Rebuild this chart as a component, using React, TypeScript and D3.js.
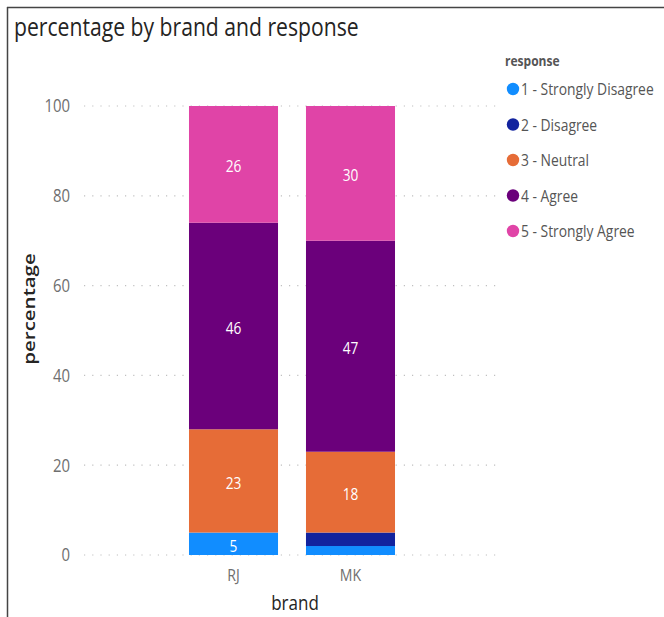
import React from "react";
import * as d3 from "d3";

const brands = ["RJ", "MK"];
const responses = ["1 - Strongly Disagree", "2 - Disagree", "3 - Neutral", "4 - Agree", "5 - Strongly Agree"];
const colors = ["#118DFF", "#12239E", "#E66C37", "#6B007B", "#E044A7"];
const rjValues = [5, 0, 23, 46, 26];
const mkValues = [2, 3, 18, 47, 30];
const yTicks = [0, 20, 40, 60, 80, 100];

const FONT = "'Open Sans', 'Noto Sans', sans-serif";
const SX = 0.83;

function T(props: any) {
  const { x, y, rotate, sx = SX, children, ...rest } = props;
  const tr = `translate(${x},${y}) scale(${sx},1)` + (rotate ? ` rotate(${rotate})` : "");
  return (
    <text transform={tr} fontFamily={FONT} {...rest}>
      {children}
    </text>
  );
}

export default function App() {
  const W = 664, H = 617;
  const values = [rjValues, mkValues];
  const y = d3.scaleLinear().domain([0, 100]).range([555, 106]);
  const x = d3.scaleBand().domain(brands).range([130.5, 453.5]).paddingInner(0.239).paddingOuter(0.5);
  const stackData = brands.map((b, i) => {
    const o: any = { brand: b };
    responses.forEach((r, j) => (o[r] = values[i][j]));
    return o;
  });
  const series = d3.stack().keys(responses)(stackData);
  return (
    <svg width={W} height={H} style={{ position: "absolute", left: 0, top: 0 }}>
      <rect x={0} y={0} width={W} height={H} fill="#fff" />
      <line x1={7.5} y1={7} x2={7.5} y2={H} stroke="#444" strokeWidth={1.5} />
      <line x1={7} y1={7.5} x2={W} y2={7.5} stroke="#444" strokeWidth={1.5} />
      <T x={14} y={36} fontSize={25.8} sx={0.82} fill="#252423">
        percentage by brand and response
      </T>
      {yTicks.map((t) => (
        <g key={t}>
          <line x1={84} x2={500} y1={y(t)} y2={y(t)} stroke="#c0c0c0" strokeWidth={1.2} strokeDasharray="1.2,7" />
          <T x={70} y={y(t)} dy="0.36em" textAnchor="end" fontSize={18} fill="#6f6f6f">
            {t}
          </T>
        </g>
      ))}
      {series.map((s, j) => (
        <g key={j}>
          {s.map((d, i) => {
            const v = d[1] - d[0];
            if (v <= 0) return null;
            return (
              <rect key={i} x={x(brands[i])!} width={x.bandwidth()} y={y(d[1])} height={y(d[0]) - y(d[1])} fill={colors[j]} />
            );
          })}
        </g>
      ))}
      {series.map((s, j) => (
        <g key={"l" + j}>
          {s.map((d, i) => {
            const v = d[1] - d[0];
            if (v < 4) return null;
            return (
              <T key={i} x={x(brands[i])! + x.bandwidth() / 2} y={(y(d[0]) + y(d[1])) / 2 + 2} dy="0.36em" textAnchor="middle" fontSize={16.5} fill="#fff">
                {v}
              </T>
            );
          })}
        </g>
      ))}
      {brands.map((b) => (
        <T key={b} x={x(b)! + x.bandwidth() / 2} y={581} textAnchor="middle" fontSize={17} fill="#6f6f6f">
          {b}
        </T>
      ))}
      <T x={295} y={610} textAnchor="middle" fontSize={20.5} fill="#252423">
        brand
      </T>
      <T x={35} y={309} rotate={-90} textAnchor="middle" fontSize={20.5} fontWeight={600} fill="#252423">
        percentage
      </T>
      <T x={505} y={66} fontSize={14.5} fontWeight={700} fill="#555">
        response
      </T>
      {responses.map((r, j) => {
        const cy = 89 + j * 35.5;
        return (
          <g key={r}>
            <circle cx={513} cy={cy} r={6.2} fill={colors[j]} />
            <T x={521} y={cy} dy="0.36em" fontSize={16.7} fill="#555">
              {r}
            </T>
          </g>
        );
      })}
    </svg>
  );
}
